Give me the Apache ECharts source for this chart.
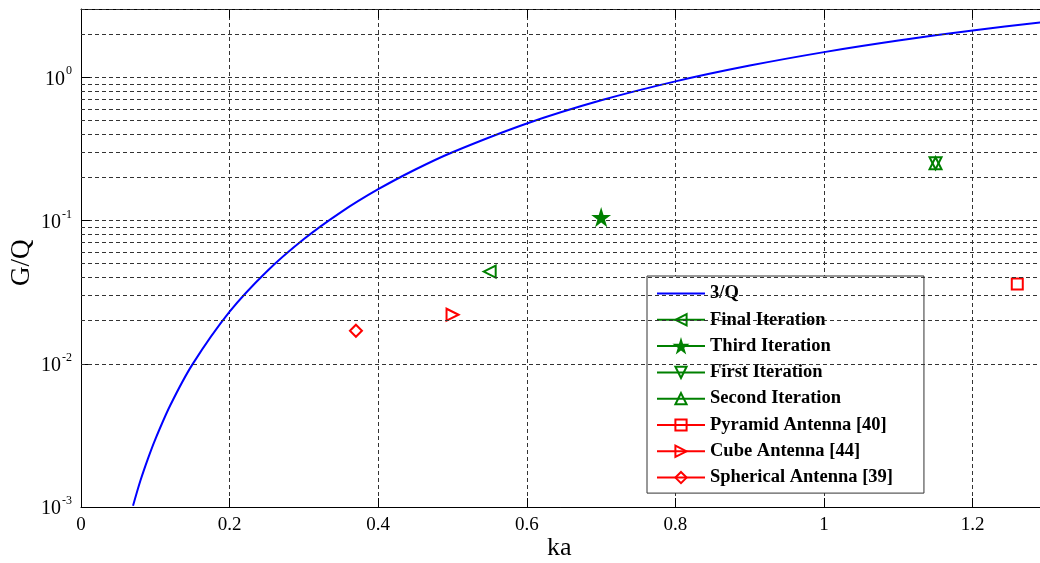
<!DOCTYPE html>
<html><head><meta charset="utf-8">
<script src="https://cdn.jsdelivr.net/npm/echarts@6/dist/echarts.min.js"></script>
<style>html,body{margin:0;padding:0;background:#fff}#c{width:1040px;height:563px}</style>
</head><body><div id="c"></div>
<script>
// 3/Q curve
const kaCurve = [0.07,0.08,0.09,0.10,0.12,0.15,0.20,0.25,0.30,0.35,0.40,0.45,0.50,0.60,0.70,0.80,0.90,1.00,1.10,1.20,1.30];
const gqCurve = [0.00102,0.00153,0.00217,0.00297,0.00511,0.0099,0.0231,0.0441,0.0743,0.1146,0.1655,0.2273,0.300,0.476,0.691,0.937,1.208,1.50,1.807,2.125,2.45];
// single-point series
const markerNames = ['Final Iteration','Third Iteration','First Iteration','Second Iteration','Pyramid Antenna [40]','Cube Antenna [44]','Spherical Antenna [39]'];
const markerKa = [0.55,0.70,1.15,1.15,1.26,0.50,0.37];
const markerGQ = [0.044,0.105,0.251,0.251,0.036,0.022,0.017];
const curveName = '3/Q';
// minor horizontal grid values
const minorGrid = [0.002,0.003,0.004,0.005,0.006,0.007,0.008,0.009,0.02,0.03,0.04,0.05,0.06,0.07,0.08,0.09,0.2,0.3,0.4,0.5,0.6,0.7,0.8,0.9,2,3];

const GREEN = '#008000', RED = '#ff0000', BLUE = '#0000ff';
const SERIF = 'Liberation Serif';
const NONE = 'rgba(0,0,0,0)';
const markerStyle = [
  {color: GREEN, symbol: 'path://M0,5L10,0L10,10Z', fill: NONE, size: 12},
  {color: GREEN, symbol: 'path://M50,0L61,35L98,35L68,57L79,91L50,70L21,91L32,57L2,35L39,35Z', fill: GREEN, size: 14},
  {color: GREEN, symbol: 'path://M0,0L10,0L5,10Z', fill: NONE, size: 12},
  {color: GREEN, symbol: 'path://M5,0L10,10L0,10Z', fill: NONE, size: 12},
  {color: RED, symbol: 'rect', fill: NONE, size: 11},
  {color: RED, symbol: 'path://M10,5L0,0L0,10Z', fill: NONE, size: 12},
  {color: RED, symbol: 'diamond', fill: NONE, size: 12}
];

const gridLine = {color: '#333', width: 1, type: [4, 3]};

const series = [
  {
    type: 'line', name: '__grid', data: [], z: 0, silent: true,
    markLine: {
      silent: true, symbol: 'none', label: {show: false},
      lineStyle: gridLine, animation: false,
      data: minorGrid.map(v => ({yAxis: v}))
    }
  },
  {
    type: 'line', name: curveName, z: 3,
    data: kaCurve.map((k, i) => [k, gqCurve[i]]),
    smooth: 0.3, showSymbol: false, symbol: 'circle',
    lineStyle: {color: BLUE, width: 2},
    itemStyle: {color: NONE, borderColor: NONE, borderWidth: 0}
  }
];
markerNames.forEach((n, i) => {
  const s = markerStyle[i];
  series.push({
    type: 'line', name: n, z: 4,
    data: [[markerKa[i], markerGQ[i]]],
    symbol: s.symbol, symbolSize: s.size, showSymbol: true,
    lineStyle: {color: s.color, width: 2},
    itemStyle: {color: s.fill, borderColor: s.color, borderWidth: 2}
  });
});

const chart = echarts.init(document.getElementById('c'), null, {renderer: 'canvas'});
chart.setOption({
  animation: false,
  backgroundColor: '#fff',
  grid: {left: 81, top: 9, width: 966, height: 498, outerBoundsMode: 'none', containLabel: false},
  xAxis: [{
    type: 'value', min: 0, max: 1.3, interval: 0.2,
    axisLine: {show: true, lineStyle: {color: '#000', width: 1}},
    axisTick: {show: true, inside: true, length: 9, lineStyle: {color: '#000'}},
    axisLabel: {
      color: '#000', fontFamily: SERIF, fontSize: 19, margin: 9,
      formatter: v => (Math.abs(v / 0.2 - Math.round(v / 0.2)) < 1e-6) ? String(Math.round(v * 10) / 10) : ''
    },
    splitLine: {show: true, lineStyle: gridLine}
  }, {
    type: 'value', position: 'top', min: 0, max: 1.3, interval: 0.2,
    axisLine: {show: true, lineStyle: {color: '#000', width: 1}},
    axisTick: {show: true, inside: true, length: 9, lineStyle: {color: '#000'}},
    axisLabel: {show: false}, splitLine: {show: false}
  }],
  yAxis: {
    type: 'log', logBase: 10, min: 0.001, max: 3,
    axisLine: {show: true, lineStyle: {color: '#000', width: 1}},
    axisTick: {show: true, inside: true, length: 9, lineStyle: {color: '#000'}},
    splitLine: {show: true, lineStyle: gridLine},
    axisLabel: {
      margin: 9,
      formatter: v => {
        const e = Math.log10(v);
        if (Math.abs(e - Math.round(e)) > 1e-6) return '';
        return '{b|10}{e|' + Math.round(e) + '}';
      },
      rich: {
        b: {fontFamily: SERIF, fontSize: 20, color: '#000', lineHeight: 24, verticalAlign: 'bottom'},
        e: {fontFamily: SERIF, fontSize: 12, color: '#000', lineHeight: 24, verticalAlign: 'top', padding: [0, 0, 0, 1]}
      }
    }
  },
  legend: {
    orient: 'vertical', left: 647, top: 276,
    data: [curveName].concat(markerNames),
    backgroundColor: '#fff', borderColor: '#333', borderWidth: 1,
    padding: [8, 31, 6, 9],
    itemWidth: 48, itemHeight: 14, itemGap: 7.3,
    textStyle: {fontFamily: SERIF, fontSize: 18.5, fontWeight: 'bold', color: '#000', lineHeight: 18},
    selectedMode: false
  },
  graphic: [
    {type: 'text', left: 547, top: 535, style: {text: 'ka', font: '26px "Liberation Serif"', fill: '#000'}},
    {type: 'text', rotation: Math.PI / 2, x: 8, y: 286, style: {text: 'G/Q', font: '27px "Liberation Serif"', fill: '#000'}}
  ],
  series: series
});
</script>
</body></html>
